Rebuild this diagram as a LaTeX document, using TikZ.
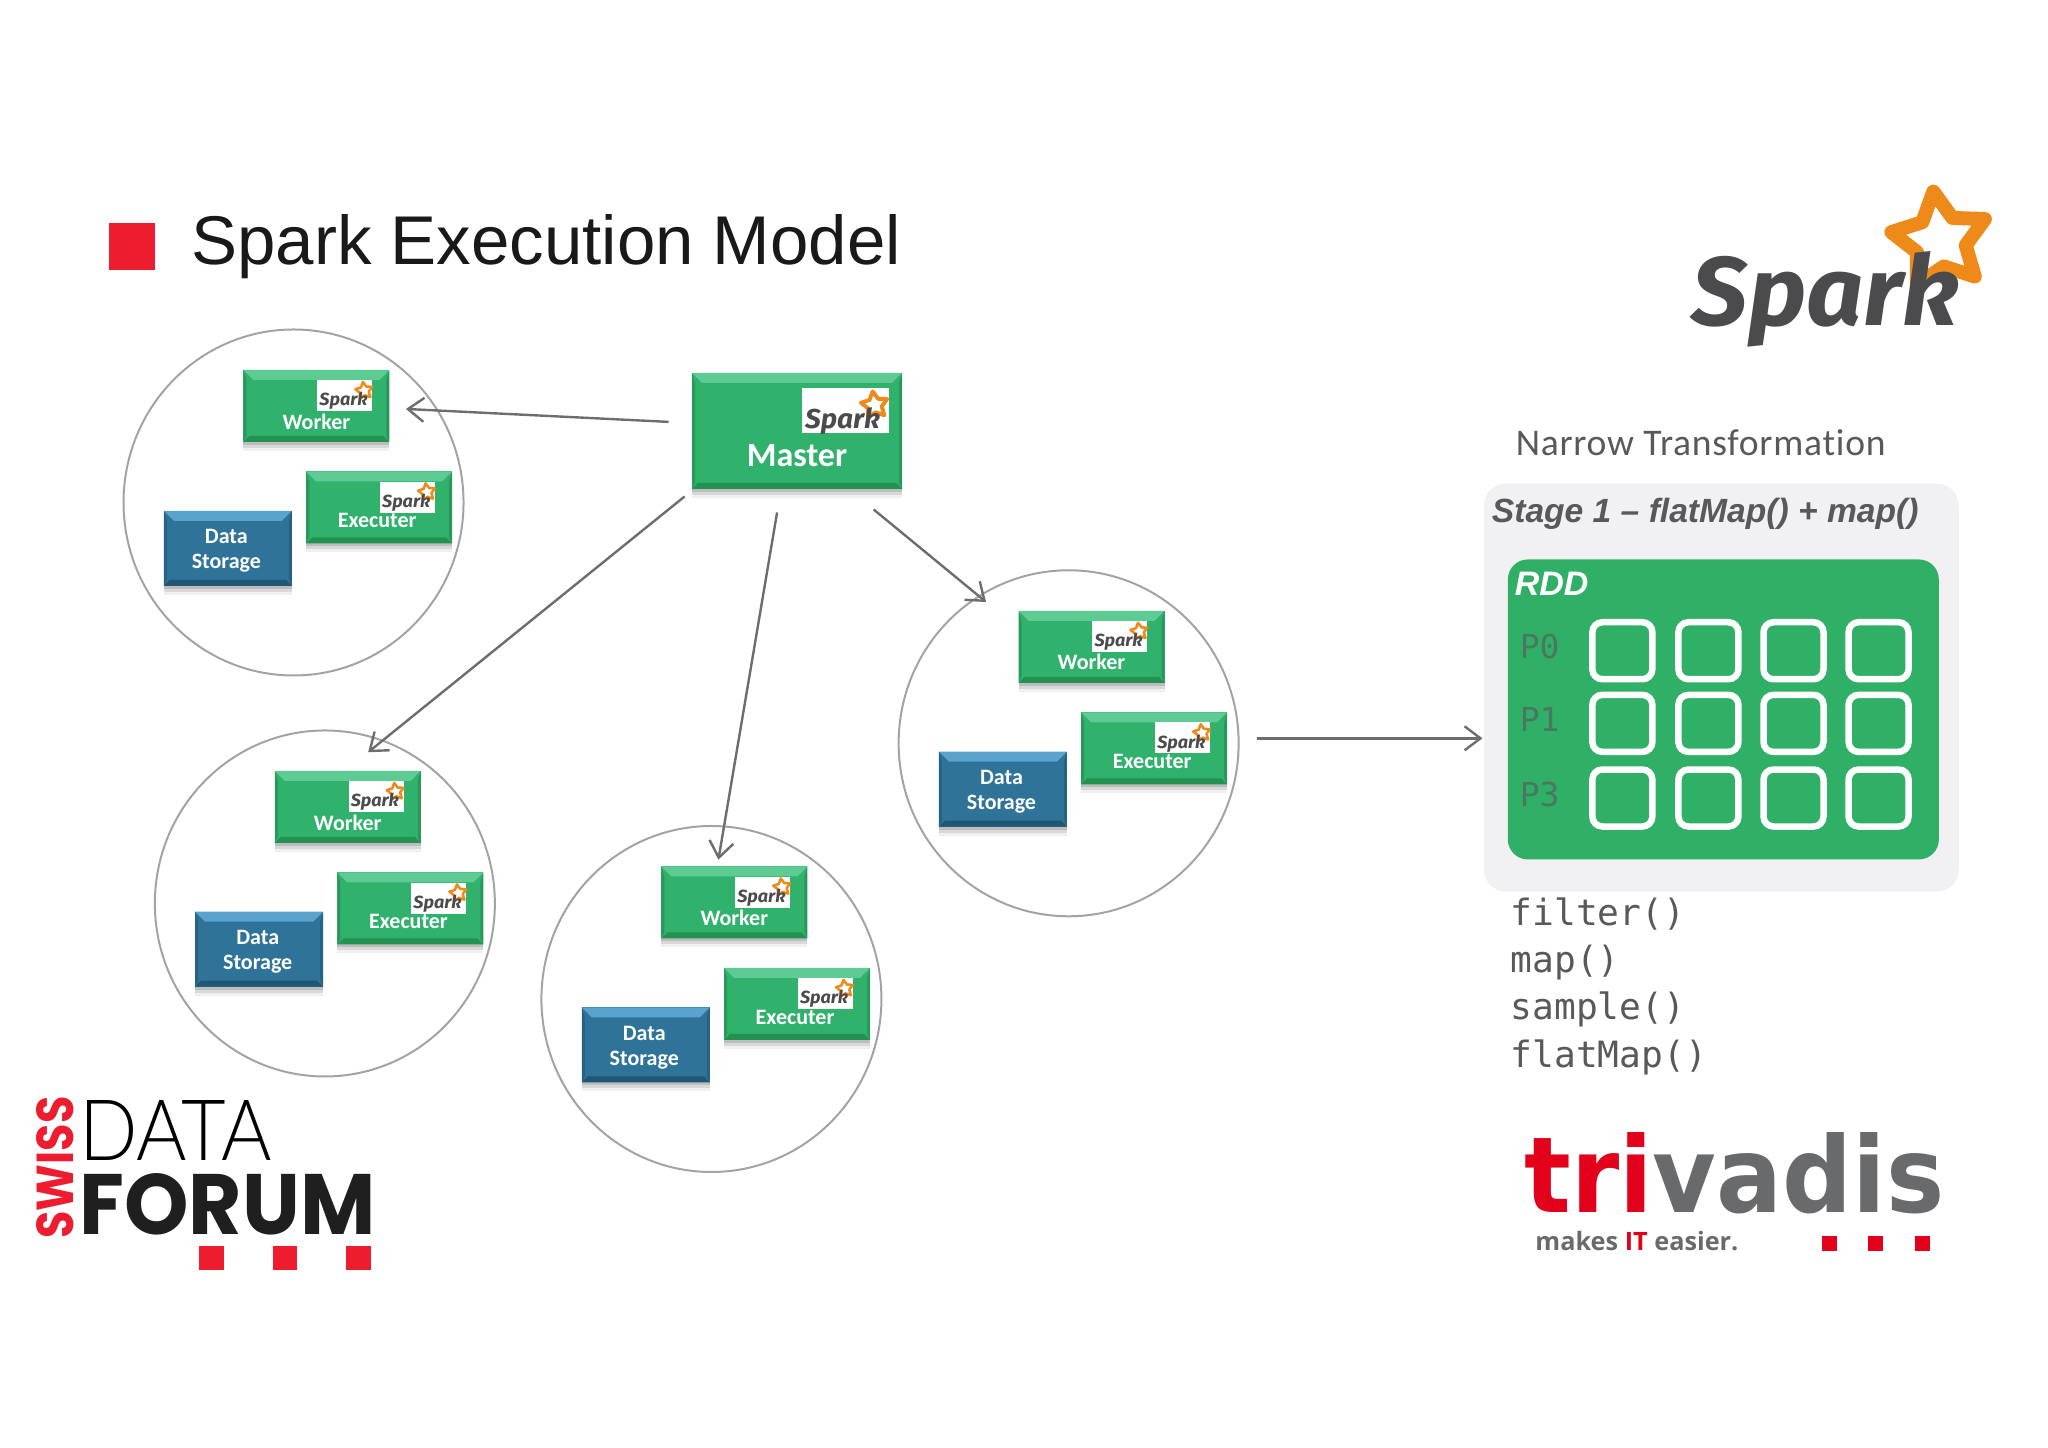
\documentclass[tikz,border=0pt]{standalone}
\usepackage{fontspec}
\usetikzlibrary{arrows.meta,shadows,calc,shapes.geometric}
\setmainfont{Liberation Sans}
\newfontfamily\calfont{Carlito}
\newfontfamily\narrowf[LetterSpace=2,Ligatures=NoCommon]{Carlito}
\newfontfamily\monofont{DejaVu Sans Mono}
\newfontfamily\sparkfont{Fira Sans}
\newfontfamily\triv{DejaVu Sans}
\newfontfamily\makesf{Open Sans}
\newfontfamily\dataf{Lato Light}
\newfontfamily\forumf{Poppins}
\definecolor{boxgreen}{HTML}{30B26C}
\definecolor{boxgreenT}{HTML}{5FCB94}
\definecolor{boxgreenB}{HTML}{23914F}
\definecolor{boxblue}{HTML}{2F7399}
\definecolor{boxblueT}{HTML}{5AA3CC}
\definecolor{boxblueB}{HTML}{1F5673}
\definecolor{logored}{HTML}{ED1C2E}
\definecolor{trired}{HTML}{E2001A}
\definecolor{sgrey}{HTML}{4B4B4D}
\definecolor{starorange}{HTML}{EE8A1A}
\definecolor{lineg}{HTML}{6D6D6F}
\definecolor{circg}{HTML}{A3A3A3}
\definecolor{stagebg}{HTML}{F1F1F3}
\definecolor{rddgreen}{HTML}{30B067}
\definecolor{txtg}{HTML}{58595B}
\tikzset{
  softshadow/.style={
    drop shadow={shadow xshift=0pt,shadow yshift=-1.5pt,opacity=.12,fill=black},
    drop shadow={shadow xshift=0pt,shadow yshift=-3pt,opacity=.10,fill=black},
    drop shadow={shadow xshift=0pt,shadow yshift=-4.5pt,opacity=.06,fill=black}},
  bevelbox/.style n args={3}{rectangle,draw=none,fill=#1,inner sep=0pt,softshadow,
    path picture={
      \fill[#2] (path picture bounding box.north west) -- (path picture bounding box.north east)
        -- ([xshift=-5pt,yshift=-5pt]path picture bounding box.north east)
        -- ([xshift=5pt,yshift=-5pt]path picture bounding box.north west) -- cycle;
      \fill[#3] (path picture bounding box.south west) -- (path picture bounding box.south east)
        -- ([xshift=-3pt,yshift=3pt]path picture bounding box.south east)
        -- ([xshift=3pt,yshift=3pt]path picture bounding box.south west) -- cycle;
      \fill[#1!85!black] (path picture bounding box.north west) -- ([xshift=1.5pt,yshift=-5pt]path picture bounding box.north west)
        -- ([xshift=1.5pt,yshift=3pt]path picture bounding box.south west) -- (path picture bounding box.south west) -- cycle;
      \fill[#1!85!black] (path picture bounding box.north east) -- ([xshift=-1.5pt,yshift=-5pt]path picture bounding box.north east)
        -- ([xshift=-1.5pt,yshift=3pt]path picture bounding box.south east) -- (path picture bounding box.south east) -- cycle;
    }},
  greenbox/.style={bevelbox={boxgreen}{boxgreenT}{boxgreenB},minimum width=73pt,minimum height=36pt},
  bluebox/.style={bevelbox={boxblue}{boxblueT}{boxblueB},minimum width=64pt,minimum height=37.5pt},
  masterbox/.style={bevelbox={boxgreen}{boxgreenT}{boxgreenB},minimum width=105pt,minimum height=58pt},
  boxlabel/.style={inner sep=0pt,text=white,font=\calfont\bfseries\fontsize{11}{12.5}\selectfont,align=center},
  cluster/.style={ellipse,draw=circg,line width=1pt,minimum width=170pt,minimum height=173pt,inner sep=0pt},
  logopatch/.style={fill=white,inner sep=0pt,minimum width=27.5pt,minimum height=15.5pt},
  link/.style={draw=lineg,line width=1.2pt,-{Straight Barb[length=8pt,width=12pt,line width=1.2pt]}},
  cell/.style={draw=white,line width=3.25pt,rounded corners=5pt,minimum width=30pt,minimum height=28.5pt,inner sep=0pt},
  plabel/.style={inner sep=0pt,anchor=west,text=txtg!65!rddgreen,font=\monofont\fontsize{16.5}{18}\selectfont},
  oplabel/.style={inner sep=0pt,anchor=base west,text=txtg,font=\monofont\fontsize{18.1}{20}\selectfont},
  redsq/.style={fill=logored,draw=none,inner sep=0pt,minimum size=12.25pt},
  trisq/.style={fill=trired,draw=none,inner sep=0pt,minimum size=7.5pt},
}
% name, origin x, origin y (text baseline left), scale
\newcommand\sparkmark[4]{%
  \begin{scope}[shift={(#2,#3)},scale=#4]
    \draw[starorange,fill=white,line width=#4*7pt,line join=round]
      plot[samples at={0,1,...,9},variable=\k]
        ({250+(mod(\k,2)==0?50:26)*cos(98+36*\k)},{-85-(mod(\k,2)==0?50:26)*sin(98+36*\k)}) -- cycle;
    \node[scale=#4,anchor=base west,inner sep=0pt,text=sgrey] (#1) at (0,0)
      {\resizebox{133.5pt}{37pt}{\sparkfont\bfseries\itshape Spark}};
  \end{scope}}
\newcommand\machine[3]{%
  \begin{scope}[shift={(#2,#3)}]
    \node[cluster] (#1c) at (295,505) {};
    \node[greenbox] (#1w) at (318,408) {};
    \node[logopatch] (#1wp) at (346.5,397.5) {};
    \sparkmark{#1wl}{321}{408}{0.18}
    \node[boxlabel] (#1wt) at (318,423.5) {Worker};
    \node[greenbox] (#1e) at (381,510) {};
    \node[logopatch] (#1ep) at (409.5,499.5) {};
    \sparkmark{#1el}{384}{510}{0.18}
    \node[boxlabel] (#1et) at (379,523.5) {Executer};
    \node[bluebox] (#1d) at (229,551) {};
    \node[boxlabel] (#1dt) at (227.5,553.5) {Data\\Storage};
  \end{scope}}
\begin{document}
\begin{tikzpicture}[x=0.4975pt,y=-0.4975pt]
\useasboundingbox (0,0) rectangle (2058.3,1454.3);
% title
\fill[logored] (110,224) rectangle (156,271);
\node[anchor=base west,inner sep=0pt,text=black!90,font=\fontsize{34.5}{40}\selectfont] (title) at (192,266) {Spark Execution Model};
% big logo
\sparkmark{biglogo}{1700}{327}{1}
% clusters
\machine{a}{0}{0}
\machine{b}{31.5}{403}
\machine{c}{420}{499}
\machine{d}{779}{242}
% master
\node[masterbox] (master) at (801,433) {};
\node[fill=white,inner sep=0pt,minimum width=43.5pt,minimum height=22.5pt] (masterpatch) at (850,413) {};
\sparkmark{masterlogo}{809}{431}{0.28}
\node[boxlabel,font=\calfont\bfseries\fontsize{17}{19}\selectfont] (mastertext) at (801,458) {Master};
% connectors
\coordinate (m1) at (672,424);
\coordinate (e1) at (408,411);
\coordinate (m2) at (688,499);
\coordinate (e2) at (370,756);
\coordinate (m3) at (781,515);
\coordinate (e3) at (722,864);
\coordinate (m4) at (878,512);
\coordinate (e4) at (991,605);
\coordinate (m5) at (1263,742);
\coordinate (e5) at (1490,742);
\draw[link] (m1) -- (e1);
\draw[link] (m2) -- (e2);
\draw[link] (m3) -- (e3);
\draw[link] (m4) -- (e4);
\draw[link] (m5) -- (e5);
% right panel
\node[anchor=base west,inner sep=0pt,text=txtg,font=\narrowf\fontsize{18.8}{20}\selectfont] (narrow) at (1523,458) {Narrow Transformation};
\node[fill=stagebg,rounded corners=11pt,minimum width=237.5pt,minimum height=204pt,inner sep=0pt] (stage) at (1730,691) {};
\node[anchor=base west,inner sep=0pt,text=txtg,font=\bfseries\itshape\fontsize{16.8}{18}\selectfont] (stagetext) at (1499,525) {Stage 1 – flatMap() + map()};
\node[fill=rddgreen,rounded corners=10pt,minimum width=215.5pt,minimum height=150pt,inner sep=0pt] (rdd) at (1732,713) {};
\node[anchor=base west,inner sep=0pt,text=white,font=\bfseries\itshape\fontsize{17}{19}\selectfont] (rddtext) at (1522,598) {RDD};
\node[plabel] (p0) at (1527,650) {P0};
\node[plabel] (p1) at (1527,723) {P1};
\node[plabel] (p3) at (1527,798) {P3};
\foreach \r/\y in {0/654,1/727,2/802}{
  \foreach \c/\x in {0/1630.5,1/1717,2/1802.5,3/1888}{
    \node[cell] (cell\r\c) at (\x,\y) {};
  }
}
\node[oplabel] (op1) at (1518,930.5) {filter()};
\node[oplabel] (op2) at (1518,977) {map()};
\node[oplabel] (op3) at (1518,1025) {sample()};
\node[oplabel] (op4) at (1518,1072.5) {flatMap()};
\begin{scope}[x=0.5pt,y=-0.5pt]
% swiss data forum logo
\node[anchor=north west,inner sep=0pt] (datat) at (79,1100)
  {\resizebox{96pt}{30pt}{\dataf DATA}};
\node[anchor=north west,inner sep=0pt,text=black!88] (forumt) at (79,1173)
  {\resizebox{148pt}{30.5pt}{\forumf\bfseries FORUM}};
\node[anchor=south west,inner sep=0pt,rotate=90,text=logored] (swisst) at (74,1239)
  {\resizebox{71pt}{18.5pt}{\forumf\bfseries SWISS}};
\node[redsq] (sq1) at (211.5,1258) {};
\node[redsq] (sq2) at (285,1258) {};
\node[redsq] (sq3) at (358.5,1258) {};
% trivadis logo
\node[anchor=base west,inner sep=0pt] (tri) at (1524,1212)
  {\resizebox{210pt}{40pt}{\triv\bfseries\textcolor{trired}{tri}\textcolor{txtg!90}{vadis}}};
\node[anchor=base west,inner sep=0pt,text=txtg!90] (makes) at (1535,1250)
  {\resizebox{101.5pt}{!}{\makesf\bfseries makes \textcolor{trired}{IT} easier.}};
\node[trisq] (tq1) at (1829.5,1243.5) {};
\node[trisq] (tq2) at (1875.5,1243.5) {};
\node[trisq] (tq3) at (1922.5,1243.5) {};
\end{scope}
\end{tikzpicture}
\end{document}
